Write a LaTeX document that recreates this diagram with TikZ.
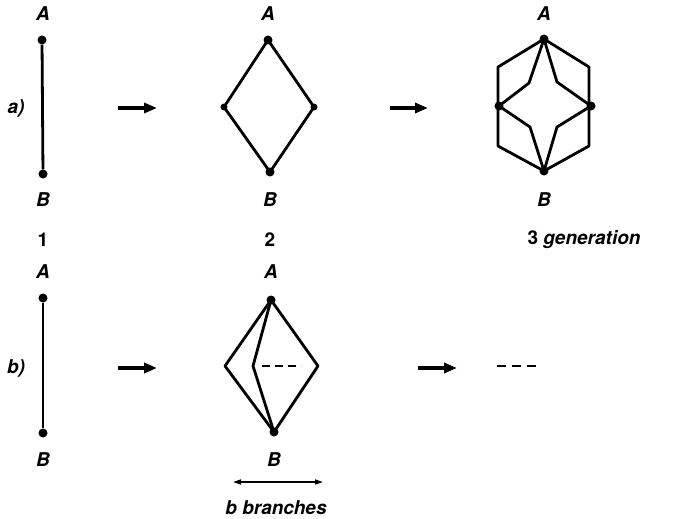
\documentclass[tikz,border=0pt]{standalone}
\usepackage{fontspec}
\setmainfont{TeX Gyre Heros}
\usetikzlibrary{arrows.meta}
\tikzset{
  dot/.style={circle,fill,inner sep=0pt,minimum size=9pt},
  lbl/.style={font=\fontsize{19}{21}\selectfont\bfseries\itshape},
  num/.style={font=\fontsize{19}{21}\selectfont\bfseries},
  edge/.style={line width=2.8pt,line join=round},
  gen/.style={line width=3.6pt,-{Triangle[length=13pt,width=10pt]}},
}
\begin{document}
\begin{tikzpicture}[x=1pt,y=-1pt]
  \useasboundingbox (0,0) rectangle (696,519);
  % row a)
  \node[lbl] (ra) at (16,108) {a)};
  \node[dot] (aA1) at (42,40) {};
  \node[dot] (aB1) at (43,174) {};
  \node[lbl] at (43,14) {A};
  \node[lbl] at (43,200) {B};
  \draw[edge] (aA1) -- (aB1);
  \coordinate (p1) at (118,108); \coordinate (q1) at (157,108);
  \draw[gen] (p1) -- (q1);
  \node[dot] (aA2) at (268,40) {};
  \node[dot,minimum size=7pt] (aL2) at (224,107) {};
  \node[dot,minimum size=7pt] (aR2) at (314,107) {};
  \node[dot] (aB2) at (270,172) {};
  \node[lbl] at (268,14) {A};
  \node[lbl] at (270,200) {B};
  \draw[edge] (aA2.center) -- (aL2.center) -- (aB2.center) -- (aR2.center) -- cycle;
  \coordinate (p2) at (390,108); \coordinate (q2) at (428,108);
  \draw[gen] (p2) -- (q2);
  \node[dot] (aA3) at (544,39) {};
  \node[dot] (aL3) at (499,106) {};
  \node[dot] (aR3) at (591,106) {};
  \node[dot] (aB3) at (544,171) {};
  \node[lbl] at (544,14) {A};
  \node[lbl] at (544,200) {B};
  \draw[edge] (aA3.center) -- (498,67) -- (498,146) -- (aB3.center) -- (589,146)
    -- (589,67) -- cycle;
  \draw[edge] (aA3.center) -- (529,83) -- (aL3.center) -- (530,127) -- (aB3.center)
    -- (557,127) -- (aR3.center) -- (557,82) -- cycle;
  % generations
  \node[num] at (43,240) {1};
  \node[num] at (270,240) {2};
  \node[num,anchor=west] at (524,240) {3 \itshape generation};
  % row b)
  \node[lbl] (rb) at (16,368) {b)};
  \node[dot] (bA1) at (43,298) {};
  \node[dot] (bB1) at (43,433) {};
  \node[lbl] at (43,272) {A};
  \node[lbl] at (43,460) {B};
  \draw[edge] (bA1) -- (bB1);
  \coordinate (p3) at (118,368); \coordinate (q3) at (157,368);
  \draw[gen] (p3) -- (q3);
  \node[dot] (bA2) at (271,300) {};
  \node[dot] (bB2) at (274,432) {};
  \coordinate (bL2) at (225,366);
  \coordinate (bR2) at (318,366);
  \coordinate (bM2) at (253,366);
  \node[lbl] at (271,272) {A};
  \node[lbl] at (274,460) {B};
  \draw[edge] (bA2.center) -- (bL2) -- (bB2.center) -- (bR2) -- cycle;
  \draw[edge] (bA2.center) -- (bM2) -- (bB2.center);
  \draw[line width=2.2pt,dash pattern=on 8pt off 5pt] (262,366) -- (301,366);
  \coordinate (w1) at (233,482); \coordinate (w2) at (323,482);
  \draw[line width=1.6pt,{Triangle[length=8pt,width=5pt]}-{Triangle[length=8pt,width=5pt]}] (w1) -- (w2);
  \node[lbl] at (276,508) {b branches};
  \coordinate (p4) at (418,368); \coordinate (q4) at (457,368);
  \draw[gen] (p4) -- (q4);
  \draw[line width=2.2pt,dash pattern=on 9pt off 6pt] (497,366) -- (541,366);
\end{tikzpicture}
\end{document}
